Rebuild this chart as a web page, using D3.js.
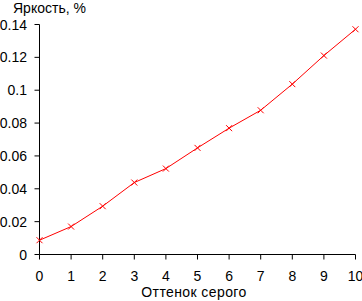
<!DOCTYPE html>
<meta charset="utf-8">
<style>
body { margin: 0; background: #fff; }
text { font-family: "Liberation Sans", Arial, sans-serif; font-size: 14px; fill: #000; }
.line { fill: none; stroke: #ff0000; stroke-width: 1px; }
.mark { stroke: #ff0000; stroke-width: 1px; }
</style>
<body>
<script src="https://d3js.org/d3.v7.min.js"></script>
<script>

// shade of grey (x) and brightness, % (y)
var shades = [0, 1, 2, 3, 4, 5, 6, 7, 8, 9, 10];
var brightness = [0.0087, 0.017, 0.0294, 0.0438, 0.0523, 0.0649, 0.0769, 0.0878, 0.1037, 0.1211, 0.1371];
var yTicks = [0, 0.02, 0.04, 0.06, 0.08, 0.1, 0.12, 0.14];

var width = 362, height = 301;

var svg = d3.select("body").append("svg")
    .attr("width", width)
    .attr("height", height);

var x = d3.scaleLinear().domain([0, 10]).range([39.5, 355.5]);
var y = d3.scaleLinear().domain([0, 0.14]).range([254.5, 24.5]);

// axes
var xAxis = svg.append("g")
    .attr("transform", "translate(0,254.5)");
xAxis.append("line")
    .attr("x1", x(0)).attr("x2", x(10))
    .attr("stroke", "#000");
xAxis.selectAll(".tk").data(shades).enter().append("line")
    .attr("x1", d => x(d)).attr("x2", d => x(d))
    .attr("y1", 0).attr("y2", 5)
    .attr("stroke", "#000");
xAxis.selectAll("text").data(shades).enter().append("text")
    .attr("x", d => x(d))
    .attr("y", 26.5)
    .attr("text-anchor", "middle")
    .text(d => d);

var yAxis = svg.append("g")
    .attr("transform", "translate(39.5,0)");
yAxis.append("line")
    .attr("y1", y(0)).attr("y2", y(0.14))
    .attr("stroke", "#000");
yAxis.selectAll(".tk").data(yTicks).enter().append("line")
    .attr("y1", d => y(d)).attr("y2", d => y(d))
    .attr("x1", -5).attr("x2", 0)
    .attr("stroke", "#000");
yAxis.selectAll("text").data(yTicks).enter().append("text")
    .attr("x", -12.5)
    .attr("y", d => y(d) + 5)
    .attr("text-anchor", "end")
    .text(d => d);

// titles
svg.append("text")
    .attr("x", 13).attr("y", 12.5)
    .text("Яркость, %");
svg.append("text")
    .attr("x", 194).attr("y", 297)
    .attr("text-anchor", "middle")
    .style("letter-spacing", "0.4px")
    .text("Оттенок серого");

// line + markers
var data = shades.map((s, i) => ({ s: s, v: brightness[i] }));
var valueline = d3.line()
    .x(d => x(d.s))
    .y(d => y(d.v));

svg.append("path")
    .attr("class", "line")
    .attr("d", valueline(data));

var m = svg.selectAll(".pt").data(data).enter().append("g")
    .attr("transform", d => "translate(" + x(d.s) + "," + y(d.v) + ")");
m.append("line").attr("class", "mark").attr("x1", -3).attr("y1", -3).attr("x2", 3).attr("y2", 3);
m.append("line").attr("class", "mark").attr("x1", -3).attr("y1", 3).attr("x2", 3).attr("y2", -3);

</script>
</body>
